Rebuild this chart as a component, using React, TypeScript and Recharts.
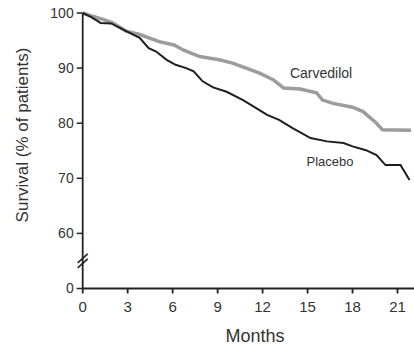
import { LineChart, Line, XAxis, YAxis, ReferenceDot, Label } from 'recharts';

// Kaplan-Meier style survival curves
const carvedilolMonths = [0, 0.7, 1.4, 2.0, 2.9, 3.8, 5.1, 6.1, 6.7, 7.8, 9.1, 10.0, 10.9, 11.8, 12.7, 13.4, 14.5, 15.6, 16.0, 16.7, 18.0, 18.7, 19.6, 20.0, 21.9];
const carvedilolSurvival = [100, 99.4, 98.8, 98.2, 96.7, 96.1, 94.8, 94.2, 93.3, 92.1, 91.5, 90.9, 90.0, 89.1, 87.9, 86.4, 86.2, 85.5, 84.2, 83.6, 82.9, 82.1, 80.0, 78.8, 78.7];

const placeboMonths = [0, 0.6, 1.2, 1.9, 2.9, 3.8, 4.4, 4.9, 5.6, 6.2, 6.9, 7.4, 8.0, 8.7, 9.6, 10.7, 11.6, 12.3, 13.1, 14.0, 15.2, 16.3, 17.4, 18.0, 18.9, 19.6, 20.2, 21.2, 21.8];
const placeboSurvival = [100, 99.2, 98.2, 98.1, 96.7, 95.5, 93.6, 93.0, 91.5, 90.6, 90.0, 89.4, 87.6, 86.5, 85.7, 84.2, 82.7, 81.5, 80.6, 79.1, 77.3, 76.7, 76.4, 75.8, 75.1, 74.2, 72.4, 72.4, 69.7];

const monthTicks = [0, 3, 6, 9, 12, 15, 18, 21];
// 50 stands in for the "0" below the axis break, 55 carries the break marks
const survivalTicks = [50, 55, 60, 70, 80, 90, 100];

const carvedilol = carvedilolMonths.map((month, i) => ({ month, value: carvedilolSurvival[i] }));
const placebo = placeboMonths.map((month, i) => ({ month, value: placeboSurvival[i] }));

const FONT = '"Liberation Sans", Arial, Helvetica, sans-serif';
const TEXT = '#333';
const AXIS = '#222';
const TICK_SIZE = 6;
const TICK_MARGIN = 3;

function YTick(props: any) {
  const { x, y, payload } = props;
  const ax = x + TICK_SIZE + TICK_MARGIN;
  if (payload.value === 55) {
    return (
      <g stroke={AXIS} strokeWidth={1.6}>
        <line x1={ax - 5} y1={y + 2} x2={ax + 5} y2={y - 7} />
        <line x1={ax - 5} y1={y + 7} x2={ax + 5} y2={y - 2} />
      </g>
    );
  }
  return (
    <g>
      <line x1={ax - TICK_SIZE} y1={y} x2={ax} y2={y} stroke={AXIS} strokeWidth={1.5} />
      <text x={x} y={y} dy="0.35em" textAnchor="end" fontSize={14} fill={TEXT} fontFamily={FONT}>
        {payload.value === 50 ? '0' : payload.value}
      </text>
    </g>
  );
}

export default function App() {
  return (
    <div style={{ position: 'absolute', left: 0, top: 0, background: '#fff' }}>
      <LineChart width={414} height={350} margin={{ top: 13, right: 0, bottom: 9.5, left: 22.7 }}>
        <XAxis
          type="number"
          dataKey="month"
          domain={[0, 22.1]}
          ticks={monthTicks}
          allowDataOverflow
          height={52}
          stroke={AXIS}
          strokeWidth={1.8}
          tickSize={5}
          tickMargin={8}
          tick={{ fontSize: 15, fill: TEXT, fontFamily: FONT }}
        >
          <Label
            content={() => (
              <text x={255} y={342} textAnchor="middle" fontSize={18} fill={TEXT} fontFamily={FONT}>
                Months
              </text>
            )}
          />
        </XAxis>
        <YAxis
          type="number"
          domain={[50, 100]}
          ticks={survivalTicks}
          interval={0}
          width={60}
          stroke={AXIS}
          strokeWidth={1.8}
          tickLine={false}
          tickSize={TICK_SIZE}
          tickMargin={TICK_MARGIN}
          tick={<YTick />}
        >
          <Label
            content={() => (
              <text
                x={22}
                y={135}
                transform="rotate(-90, 22, 135)"
                textAnchor="middle"
                dominantBaseline="central"
                fontSize={17}
                fill={TEXT}
                fontFamily={FONT}
              >
                Survival (% of patients)
              </text>
            )}
          />
        </YAxis>
        <Line
          data={carvedilol}
          dataKey="value"
          type="linear"
          stroke="#9c9c9c"
          strokeWidth={3.5}
          dot={false}
          isAnimationActive={false}
        />
        <Line
          data={placebo}
          dataKey="value"
          type="linear"
          stroke="#1e1e1e"
          strokeWidth={2}
          dot={false}
          isAnimationActive={false}
        />
        <ReferenceDot x={15.9} y={89.1} r={0} stroke="none" fill="none">
          <Label value="Carvedilol" position="center" fontSize={14} fill={TEXT} fontFamily={FONT} />
        </ReferenceDot>
        <ReferenceDot x={16.5} y={73} r={0} stroke="none" fill="none">
          <Label value="Placebo" position="center" fontSize={13} fill={TEXT} fontFamily={FONT} />
        </ReferenceDot>
      </LineChart>
    </div>
  );
}
